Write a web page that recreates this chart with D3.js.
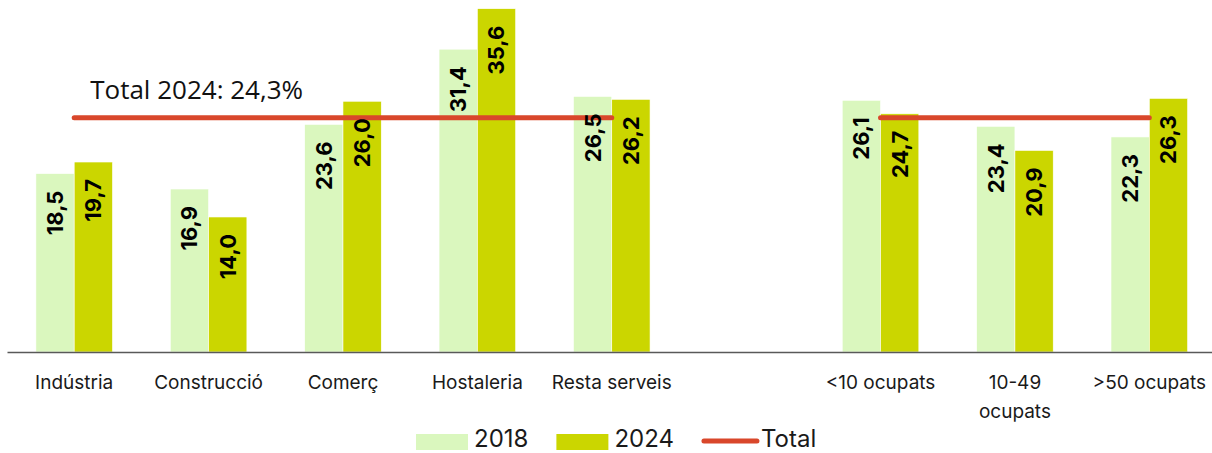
<!DOCTYPE html>
<html>
<head>
<meta charset="utf-8">
<script src="https://cdn.jsdelivr.net/npm/d3@7"></script>
<style>
	body { margin: 0; background: #fff; }
	svg { display: block; }
	.axis-lbl { font-family: Inter, "Noto Sans", sans-serif; font-size: 19px; fill: #1a1a1a; }
	.val-lbl { font-family: Inter, "Noto Sans", sans-serif; font-size: 22px; font-weight: 700; fill: #000; }
	.total-lbl { font-family: "Open Sans", "Noto Sans", sans-serif; font-size: 26px; fill: #111; }
	.legend-lbl { font-family: Inter, "Noto Sans", sans-serif; font-size: 24px; fill: #1a1a1a; }
</style>
</head>
<body>
<div id="chart"></div>
<script>
// --------- Data --------- //
var sectors = ["Indústria", "Construcció", "Comerç", "Hostaleria", "Resta serveis"];
var sizes = ["<10 ocupats", "10-49\nocupats", ">50 ocupats"];
var years = ["2018", "2024"];
var values2018 = [18.5, 16.9, 23.6, 31.4, 26.5, 26.1, 23.4, 22.3];
var values2024 = [19.7, 14.0, 26.0, 35.6, 26.2, 24.7, 20.9, 26.3];
var total2024 = 24.3;
var totalLabel = "Total 2024: 24,3%";
// --------- /Data --------- //

var width = 1212, height = 453;
var baseY = 352;
var colors = {"2018": "#daf7be", "2024": "#cbd600"};
var totalColor = "#d9472b";

var categories = sectors.concat(sizes);
var slots = sectors.concat([" "], sizes); // the blank slot makes the gap between the two groups

var svg = d3.select("#chart").append("svg")
	.attr("width", width)
	.attr("height", height);

var x = d3.scaleBand()
	.domain(slots)
	.range([7, 1216.5])
	.paddingInner(0.43)
	.paddingOuter(0.215);

var xYear = d3.scaleBand()
	.domain(years)
	.range([0, x.bandwidth()]);

var y = d3.scaleLinear()
	.domain([0, 36.5])
	.range([baseY, 0]);

function fmt(v){
	return v.toFixed(1).replace(".", ",");
}

// rows: one per bar
var rows = [];
categories.forEach(function(cat, i){
	rows.push({cat: cat, year: "2018", value: values2018[i]});
	rows.push({cat: cat, year: "2024", value: values2024[i]});
});

// --------- bars --------- //
svg.append("g").attr("class", "bars")
	.selectAll("rect")
	.data(rows)
	.enter().append("rect")
	.attr("x", function(d){ return x(d.cat) + xYear(d.year); })
	.attr("y", function(d){ return y(d.value); })
	.attr("width", xYear.bandwidth())
	.attr("height", function(d){ return baseY - y(d.value); })
	.attr("fill", function(d){ return colors[d.year]; })
	.attr("stroke", "#fff")
	.attr("stroke-width", 0.6);

// --------- x axis --------- //
var axis = svg.append("g")
	.attr("transform", "translate(0," + baseY + ")")
	.call(d3.axisBottom(x).tickSize(0).tickSizeOuter(0));

axis.select(".domain").attr("stroke", "#595959").attr("stroke-width", 1.6);
axis.selectAll(".tick text").each(function(d){
	var t = d3.select(this);
	var lines = d.split("\n");
	t.text(null)
		.attr("class", "axis-lbl")
		.attr("y", 37)
		.attr("dy", null)
		.attr("fill", null);
	lines.forEach(function(line, i){
		t.append("tspan").attr("x", 0).attr("dy", i === 0 ? 0 : 29).text(line);
	});
});
axis.attr("font-size", null).attr("font-family", null);

// --------- total lines --------- //
var groups = [sectors, sizes];
var line = d3.line()
	.x(function(d){ return x(d) + x.bandwidth() / 2; })
	.y(function(){ return y(total2024); });

svg.append("g").selectAll("path")
	.data(groups.map(function(g){ return [g[0], g[g.length - 1]]; }))
	.enter().append("path")
	.attr("d", line)
	.attr("fill", "none")
	.attr("stroke", totalColor)
	.attr("stroke-width", 5)
	.attr("stroke-linecap", "round");

svg.append("text")
	.attr("class", "total-lbl")
	.attr("x", x(sectors[0]) + x.bandwidth() / 2 + 16)
	.attr("y", y(total2024) - 19)
	.text(totalLabel);

// value labels, rotated, inside the top of the bar (drawn over the total line)
svg.append("g").selectAll("text")
	.data(rows)
	.enter().append("text")
	.attr("class", "val-lbl")
	.attr("text-anchor", "end")
	.attr("dy", "0.36em")
	.attr("transform", function(d){
		var cx = x(d.cat) + xYear(d.year) + xYear.bandwidth() / 2;
		return "translate(" + cx + "," + (y(d.value) + 17) + ") rotate(-90)";
	})
	.text(function(d){ return fmt(d.value); });

// --------- legend --------- //
var legendItems = [
	{name: "2018", type: "rect", color: colors["2018"]},
	{name: "2024", type: "rect", color: colors["2024"]},
	{name: "Total", type: "line", color: totalColor}
];
var legend = svg.append("g").attr("transform", "translate(416,0)");
var lx = 0;
legendItems.forEach(function(item){
	var g = legend.append("g").attr("transform", "translate(" + lx + ",0)");
	var swW = item.type === "rect" ? 52 : 55;
	if (item.type === "rect"){
		g.append("rect").attr("x", 0).attr("y", 434).attr("width", swW).attr("height", 16).attr("fill", item.color);
	}else{
		g.append("line").attr("x1", 2).attr("x2", swW).attr("y1", 441).attr("y2", 441)
			.attr("stroke", item.color).attr("stroke-width", 5).attr("stroke-linecap", "round");
	}
	var txt = g.append("text").attr("class", "legend-lbl")
		.attr("x", swW + (item.type === "rect" ? 6 : 4))
		.attr("y", 447)
		.text(item.name);
	lx += swW + 6 + txt.node().getComputedTextLength() + 28;
});
</script>
</body>
</html>
